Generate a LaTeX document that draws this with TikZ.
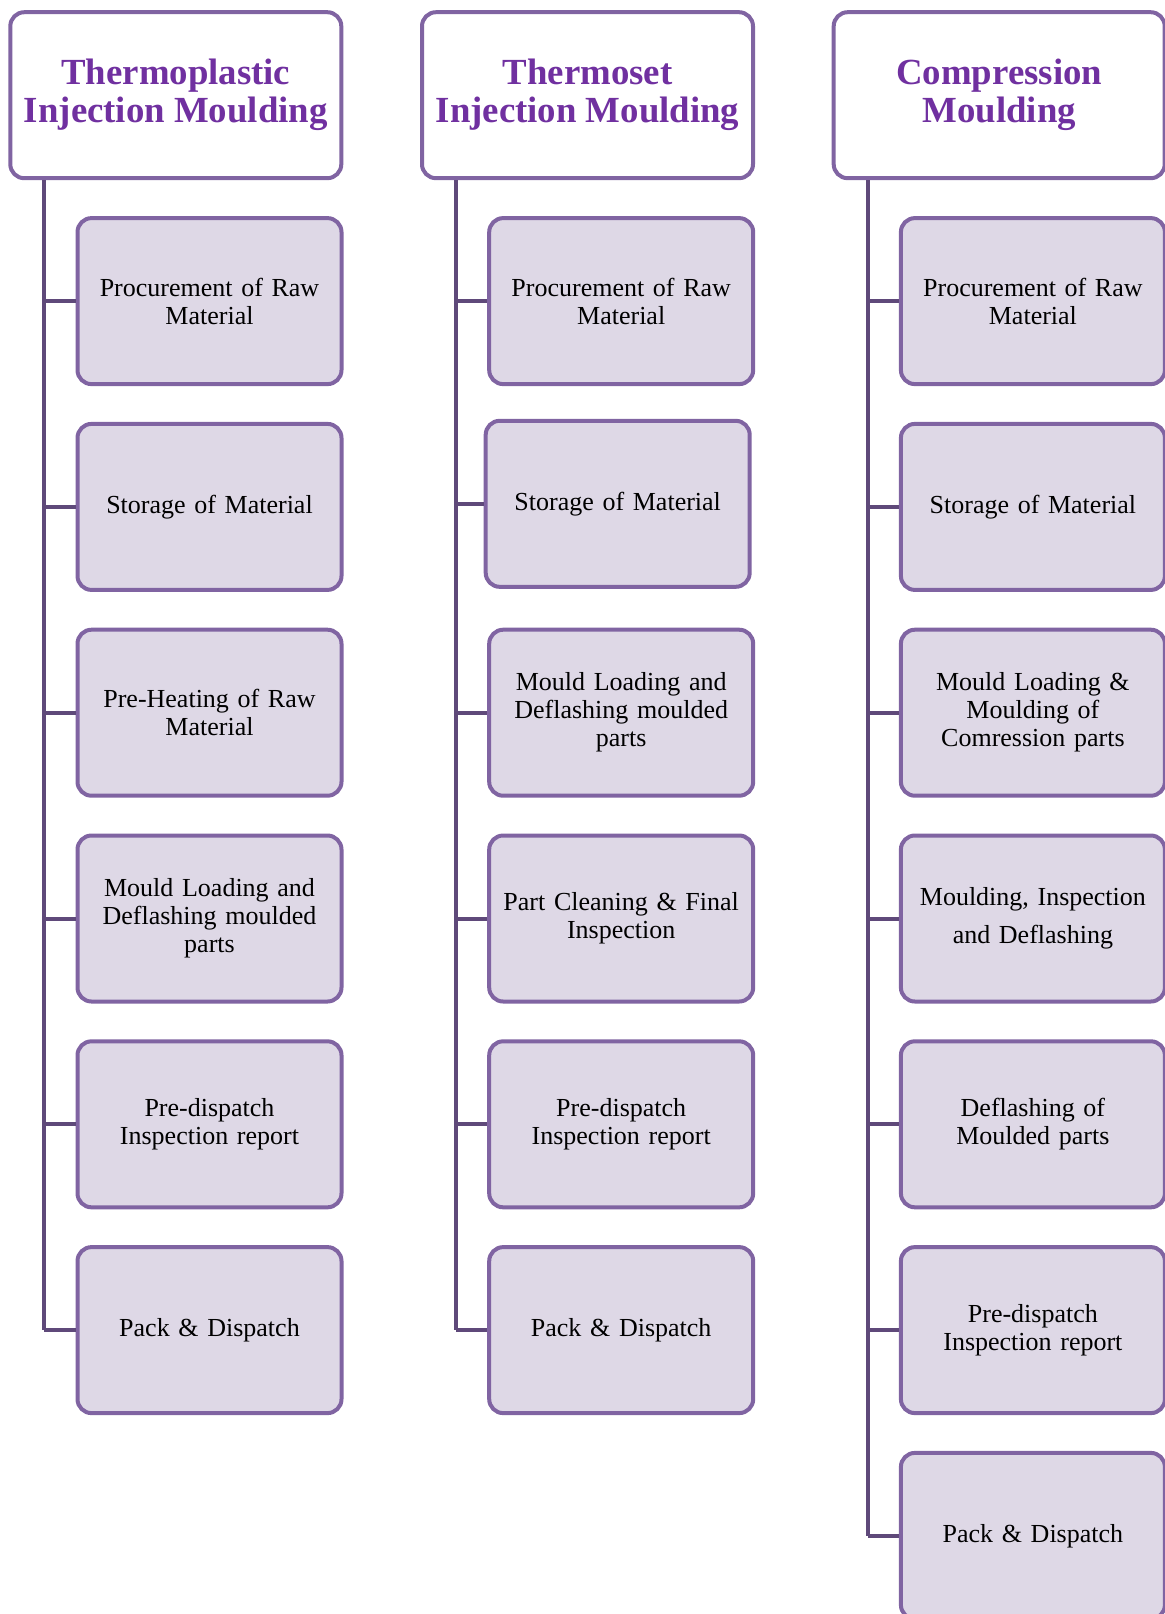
\documentclass[tikz,border=0pt]{standalone}
\usepackage{fontspec}
\setmainfont{Liberation Serif}
\definecolor{bord}{HTML}{8064A2}
\definecolor{trunkc}{HTML}{5F497A}
\definecolor{boxfill}{HTML}{DED8E6}
\definecolor{hdtext}{HTML}{7030A0}
\begin{document}
\begin{tikzpicture}[x=0.5pt,y=-0.5pt,
 hdr/.style={draw=bord, line width=2pt, rounded corners=7pt, fill=white, minimum width=165.5pt, minimum height=83pt, align=center, text=hdtext, font=\fontsize{18.4}{19}\selectfont\bfseries, inner sep=0pt},
 stepbox/.style={draw=bord, line width=2pt, rounded corners=7pt, fill=boxfill, minimum width=132pt, minimum height=83pt, align=center, text width=126pt, font=\fontsize{13}{14}\selectfont, inner sep=0pt},
 link/.style={draw=trunkc, line width=2pt}]
\useasboundingbox (0,0) rectangle (1165,1614);
% column 1
\coordinate (T1) at (44.3,0);
\node[hdr] (h1) at (175.8,95.2) {Thermoplastic\\Injection Moulding};
\node[stepbox] (a1) at (209.5,301.1) {Procurement of Raw\\Material};
\node[stepbox] (a2) at (209.5,506.9) {Storage of Material};
\node[stepbox] (a3) at (209.5,712.7) {Pre-Heating of Raw\\Material};
\node[stepbox] (a4) at (209.5,918.5) {Mould Loading and\\Deflashing moulded\\parts};
\node[stepbox] (a5) at (209.5,1124.3) {Pre-dispatch\\Inspection report};
\node[stepbox] (a6) at (209.5,1330.1) {Pack \& Dispatch};
% column 2
\coordinate (T2) at (456.0,0);
\node[hdr] (h2) at (587.5,95.2) {Thermoset\\Injection Moulding};
\node[stepbox] (b1) at (621.2,301.1) {Procurement of Raw\\Material};
\node[stepbox] (b2) at (617.7,503.8) {Storage of Material};
\node[stepbox] (b3) at (621.2,712.7) {Mould Loading and\\Deflashing moulded\\parts};
\node[stepbox] (b4) at (621.2,918.5) {Part Cleaning \& Final\\Inspection};
\node[stepbox] (b5) at (621.2,1124.3) {Pre-dispatch\\Inspection report};
\node[stepbox] (b6) at (621.2,1330.1) {Pack \& Dispatch};
% column 3
\coordinate (T3) at (867.7,0);
\node[hdr] (h3) at (999.2,95.2) {Compression\\Moulding};
\node[stepbox] (c1) at (1032.9,301.1) {Procurement of Raw\\Material};
\node[stepbox] (c2) at (1032.9,506.9) {Storage of Material};
\node[stepbox] (c3) at (1032.9,712.7) {Mould Loading \&\\Moulding of\\Comression parts};
\node[stepbox] (c4) at (1032.9,918.5) {Moulding, Inspection\\[5pt]and Deflashing};
\node[stepbox] (c5) at (1032.9,1124.3) {Deflashing of\\Moulded parts};
\node[stepbox] (c6) at (1032.9,1330.1) {Pre-dispatch\\Inspection report};
\node[stepbox] (c7) at (1032.9,1535.9) {Pack \& Dispatch};
% trunks and branches
\draw[link] (T1 |- h1.south) -- (T1 |- a6.west);
\foreach \n in {a1,a2,a3,a4,a5,a6} \draw[link] (T1 |- \n.west) -- (\n.west);
\draw[link] (T2 |- h2.south) -- (T2 |- b6.west);
\foreach \n in {b1,b2,b3,b4,b5,b6} \draw[link] (T2 |- \n.west) -- (\n.west);
\draw[link] (T3 |- h3.south) -- (T3 |- c7.west);
\foreach \n in {c1,c2,c3,c4,c5,c6,c7} \draw[link] (T3 |- \n.west) -- (\n.west);
\end{tikzpicture}
\end{document}
